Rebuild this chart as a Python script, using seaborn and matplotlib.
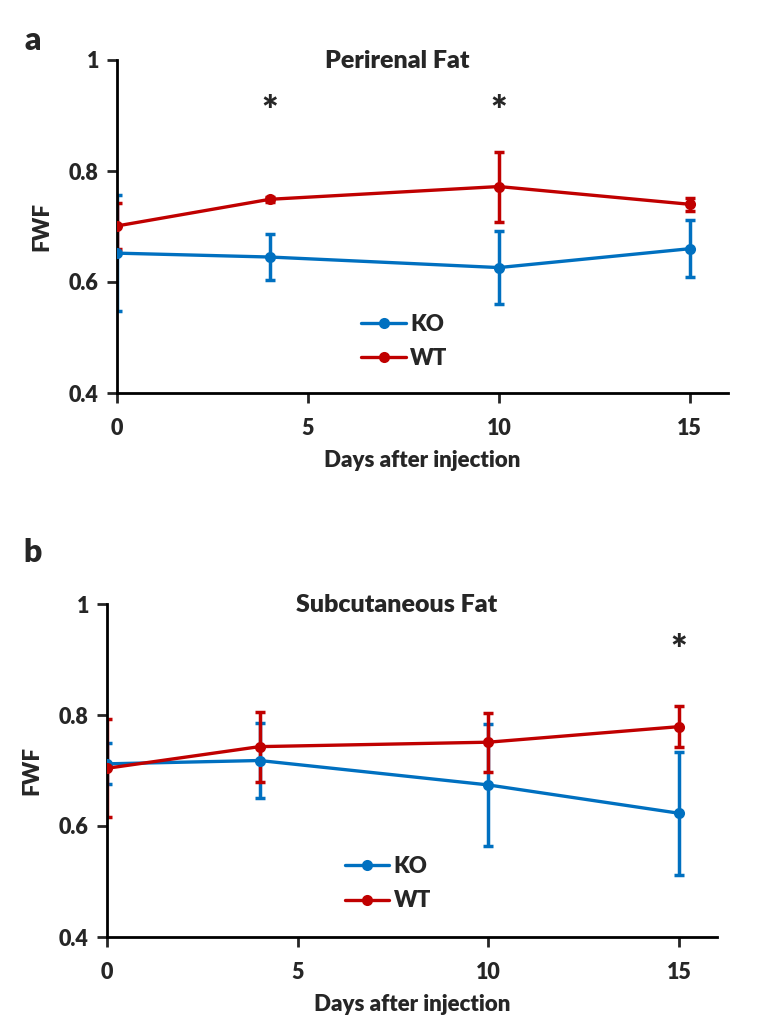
import numpy as np
import pandas as pd
import matplotlib
matplotlib.use("Agg")
import matplotlib.pyplot as plt
import seaborn as sns

# Tage nach Injektion
days = [0, 4, 10, 15]

# Perirenal Fat (Mittelwert und Fehler)
peri_ko = [0.652, 0.645, 0.626, 0.660]
peri_ko_err = [0.104, 0.041, 0.066, 0.051]
peri_wt = [0.701, 0.749, 0.772, 0.740]
peri_wt_err = [0.042, 0.005, 0.063, 0.012]

# Subcutaneous Fat
sub_ko = [0.712, 0.718, 0.674, 0.623]
sub_ko_err = [0.037, 0.068, 0.110, 0.111]
sub_wt = [0.704, 0.743, 0.751, 0.779]
sub_wt_err = [0.088, 0.063, 0.053, 0.037]

groups = ["KO", "WT"]
yticks = [0.4, 0.6, 0.8, 1.0]
ytick_labels = ["0.4", "0.6", "0.8", "1"]
xticks = [0, 5, 10, 15]

sns.set_style("ticks")
plt.rcParams["font.family"] = ["Lato", "DejaVu Sans"]
plt.rcParams["font.weight"] = "bold"

palette = {"KO": "#0070C0", "WT": "#C00000"}
W = "heavy"

fig = plt.figure(figsize=(7.63, 10.3), dpi=100)


def panel(rect, title, title_x, ko, ko_err, wt, wt_err, stars, legend_anchor):
    ax = fig.add_axes(rect)
    df = pd.DataFrame({
        "day": days * 2,
        "FWF": ko + wt,
        "group": ["KO"] * len(days) + ["WT"] * len(days),
    })
    # Fehlerbalken zuerst
    for g, m, e in [("KO", ko, ko_err), ("WT", wt, wt_err)]:
        ax.errorbar(days, m, yerr=e, fmt="none", ecolor=palette[g],
                    elinewidth=2.5, capsize=3.5, capthick=2.5, zorder=2)
    sns.lineplot(data=df, x="day", y="FWF", hue="group", hue_order=groups,
                 palette=palette, marker="o", markersize=8, markeredgewidth=0,
                 linewidth=2.4, ax=ax, zorder=3)
    ax.set_xlim(0, 16)
    ax.set_ylim(0.4, 1.0)
    ax.set_xticks(xticks)
    ax.set_xticklabels([str(t) for t in xticks], fontsize=15.5, fontweight=W)
    ax.set_yticks(yticks)
    ax.set_yticklabels(ytick_labels, fontsize=15.5, fontweight=W)
    ax.tick_params(direction="out", length=7, width=2, pad=6)
    ax.tick_params(axis="x", pad=11)
    for s in ["top", "right"]:
        ax.spines[s].set_visible(False)
    for s in ["left", "bottom"]:
        ax.spines[s].set_linewidth(2)
        ax.spines[s].set_color("black")
    ax.set_xlabel("Days after injection", fontsize=16, fontweight=W, labelpad=8)
    ax.set_ylabel("FWF", fontsize=16, fontweight=W, labelpad=12)
    ax.text(title_x, 0.998, title, fontsize=18, fontweight=W, ha="center", va="center")
    for sx, sy in stars:
        ax.text(sx, sy, "*", fontsize=28, fontweight=W, ha="center", va="center")
    leg = ax.legend(loc="center left", bbox_to_anchor=legend_anchor, frameon=False,
                    fontsize=16, handlelength=2.0, handletextpad=0.2,
                    labelspacing=0.6, borderpad=0, borderaxespad=0)
    for t in leg.get_texts():
        t.set_fontweight(W)
    return ax


ax_a = panel([117 / 763, 1 - 393 / 1030, 611 / 763, 333 / 1030],
             "Perirenal Fat", 7.35, peri_ko, peri_ko_err, peri_wt, peri_wt_err,
             [(4, 0.905), (10, 0.905)], (0.40, 0.155))
ax_b = panel([107 / 763, 1 - 937 / 1030, 610 / 763, 333 / 1030],
             "Subcutaneous Fat", 7.6, sub_ko, sub_ko_err, sub_wt, sub_wt_err,
             [(15, 0.915)], (0.39, 0.16))

fig.text(33 / 763, 1 - 40 / 1030, "a", fontsize=23, fontweight=W, ha="center", va="center")
fig.text(33 / 763, 1 - 552 / 1030, "b", fontsize=23, fontweight=W, ha="center", va="center")

fig.savefig("out.png", dpi=100)
